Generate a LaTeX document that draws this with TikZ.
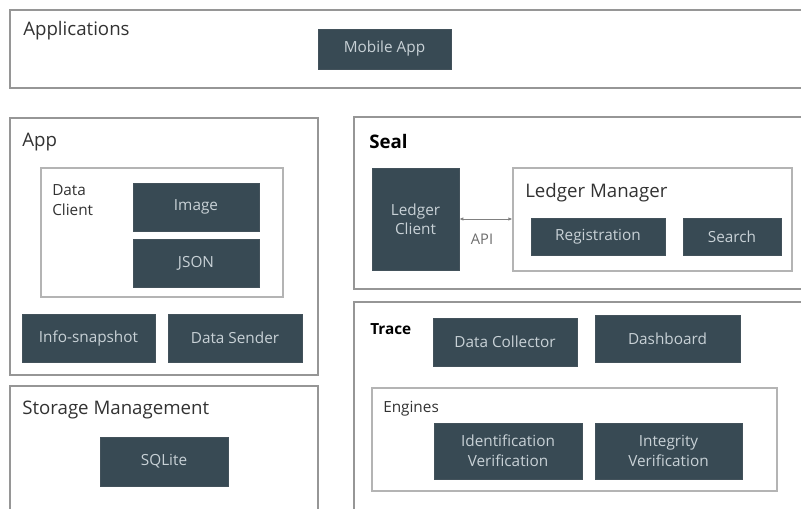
\documentclass[tikz,border=0pt]{standalone}
\usepackage{fontspec}
\setmainfont{Open Sans}
\usetikzlibrary{fit,arrows.meta}
\definecolor{boxfill}{RGB}{56,74,84}
\definecolor{boxtext}{RGB}{200,209,214}
\definecolor{frame}{RGB}{150,150,150}
\definecolor{iframe}{RGB}{180,180,180}
\definecolor{labtext}{RGB}{50,50,50}
\tikzset{
  sz/.style 2 args={minimum width=#1*0.75pt, minimum height=#2*0.75pt},
  dbox/.style={fill=boxfill, draw=boxfill!85!gray, line width=0.4pt, inner sep=0pt, text=boxtext, font=\fontsize{11.5}{15}\selectfont, align=center},
  outer/.style={draw=frame, line width=1.1pt},
  inner/.style={draw=iframe, line width=0.9pt, inner sep=0pt},
  biglab/.style={anchor=west, inner sep=0pt, text=labtext, font=\fontsize{14}{16}\selectfont},
  boldlab/.style={anchor=west, inner sep=0pt, text=black, font=\fontsize{14}{16}\selectfont\bfseries},
  smalllab/.style={anchor=west, inner sep=0pt, text=labtext, font=\fontsize{11.5}{15}\selectfont, align=left},
}
\begin{document}
\begin{tikzpicture}[x=0.75pt, y=-0.75pt]
\useasboundingbox (0,0) rectangle (801,509);
\clip (0,0) rectangle (801,509);
% outer containers
\draw[outer] (10,10) rectangle (830,88);
\draw[outer] (10,118) rectangle (318,375);
\draw[outer] (10,386) rectangle (318,540);
\draw[outer] (354,117) rectangle (830,289);
\draw[outer] (354,302) rectangle (830,540);
% inner containers
\node[inner, fit={(41,168) (283,297)}] (dataclient) {};
\node[inner, fit={(513,168) (792,271)}] (ledgermgr) {};
\node[inner, fit={(372,388) (777,491)}] (engines) {};
% labels
\node[biglab] (lapps) at (23,31) {Applications};
\node[biglab] (lapp) at (22,142) {App};
\node[smalllab] (ldc) at (52,200) {Data\\Client};
\node[biglab] (lstor) at (22,410) {Storage Management};
\node[boldlab] (lseal) at (369,142) {Seal};
\node[biglab] (llm) at (525,193) {Ledger Manager};
\node[boldlab, font=\fontsize{11.5}{14}\selectfont\bfseries] (ltrace) at (370,329) {Trace};
\node[smalllab] (leng) at (383,409) {Engines};
% dark boxes
\node[dbox, sz={133}{40}] (mobile) at (384.5,49) {Mobile App};
\node[dbox, sz={126}{48}] (image) at (196,207) {Image};
\node[dbox, sz={126}{48}] (json) at (196,263) {JSON};
\node[dbox, sz={133}{48}] (info) at (88.5,338) {Info-snapshot};
\node[dbox, sz={134}{48}] (sender) at (235,338) {Data Sender};
\node[dbox, sz={128}{49}] (sqlite) at (164,461.5) {SQLite};
\node[dbox, sz={87}{102}, font=\fontsize{11.5}{14}\selectfont] (lclient) at (415.5,219) {Ledger\\Client};
\node[dbox, sz={134}{37}] (reg) at (598,236.5) {Registration};
\node[dbox, sz={98}{37}] (search) at (732,236.5) {Search};
\node[dbox, sz={144}{48}] (collector) at (505,342) {Data Collector};
\node[dbox, sz={145}{47}] (dash) at (667.5,338.5) {Dashboard};
\node[dbox, sz={148}{56}] (idver) at (508,451) {Identification\\Verification};
\node[dbox, sz={147}{56}] (intver) at (668.5,451) {Integrity\\Verification};
% API connector
\draw[draw=gray, line width=0.7pt, {Latex[length=3pt,width=2.6pt]}-{Latex[length=3pt,width=2.6pt]}] (lclient.east |- 0,219) -- (ledgermgr.west |- 0,219);
\node[text=gray!85!black, inner sep=0pt, font=\fontsize{11}{13}\selectfont] (api) at (482,239) {API};
\end{tikzpicture}
\end{document}
